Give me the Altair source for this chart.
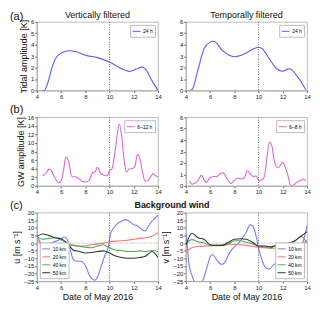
import altair as alt
import pandas as pd

# ---------------- data ----------------
# (a) tidal amplitude [K], 24 h
va_x = [4.4, 4.6, 4.95, 5.2, 5.5, 5.9, 6.3, 6.7, 7.2, 8.0, 9.0, 10.0, 11.0, 11.6, 12.0, 12.4, 12.7, 13.0, 13.5, 14.0]
va_y = [0.0, 0.0, 0.8, 1.8, 2.7, 3.2, 3.4, 3.47, 3.4, 3.08, 2.87, 2.48, 1.9, 1.67, 1.78, 1.95, 2.04, 1.83, 0.86, 0.0]
ta_x = [4.3, 4.5, 5.0, 5.5, 6.0, 6.2, 6.5, 7.0, 7.5, 8.0, 8.5, 9.0, 9.5, 10.0, 10.3, 10.5, 11.0, 11.5, 12.0, 12.5, 12.7, 13.0, 13.5, 13.9]
ta_y = [0.0, 0.05, 1.8, 3.65, 4.23, 4.3, 4.18, 3.5, 3.13, 2.95, 3.05, 3.3, 3.6, 3.78, 3.65, 3.4, 2.6, 1.9, 1.68, 1.9, 1.85, 1.5, 0.78, 0.05]

# (b) GW amplitude [K]
gv_x = [4.5, 4.8, 5.0, 5.2, 5.5, 5.8, 6.0, 6.2, 6.4, 6.6, 6.9, 7.2, 7.4, 7.7, 8.0, 8.3, 8.6, 8.8, 9.0, 9.2, 9.5, 9.8,
        10.0, 10.2, 10.5, 10.8, 11.0, 11.2, 11.4, 11.6, 11.9, 12.1, 12.3, 12.5, 12.7, 12.9, 13.1, 13.4, 13.6, 13.8, 14.0]
gv_y = [2.35, 3.05, 3.9, 3.55, 1.8, 0.7, 1.1, 3.55, 6.75, 6.0, 2.1, 2.1, 1.8, 1.1, 0.9, 1.2, 3.05, 3.2, 4.4, 3.2, 2.5, 2.35,
        3.55, 3.9, 8.9, 14.4, 11.7, 6.0, 3.2, 3.9, 4.05, 4.6, 7.3, 6.4, 3.55, 1.2, 1.05, 2.1, 2.85, 2.35, 2.1]
gt_x = [4.3, 4.5, 4.7, 5.0, 5.3, 5.5, 5.7, 6.0, 6.3, 6.6, 6.9, 7.1, 7.4, 7.7, 8.0, 8.3, 8.6, 8.8, 9.1, 9.3, 9.6, 9.8,
        10.0, 10.3, 10.5, 10.7, 10.9, 11.1, 11.3, 11.6, 11.8, 12.0, 12.2, 12.4, 12.6, 12.8, 13.0, 13.3, 13.5, 13.7, 13.9]
gt_y = [0.4, 0.15, 0.2, 0.47, 0.95, 0.53, 0.3, 0.74, 0.8, 0.84, 1.1, 1.13, 0.6, 0.2, 0.47, 0.68, 0.6, 0.68, 1.32, 1.05, 0.8, 0.87,
        0.47, 0.53, 0.87, 2.58, 3.84, 3.5, 2.2, 1.58, 1.79, 2.05, 1.66, 1.0, 0.16, 0.0, 0.16, 0.42, 0.47, 0.6, 0.42]

# (c) background wind [m/s]
grid_x = [4.0, 4.5, 5.0, 5.5, 6.0, 6.5, 7.0, 7.5, 8.0, 8.5, 9.0, 9.5, 10.0, 10.5, 11.0, 11.5, 12.0, 12.5, 13.0, 13.5, 14.0]
u10_x = [4.0, 4.3, 4.6, 5.0, 5.3, 5.6, 6.0, 6.3, 6.5, 6.7, 7.0, 7.3, 7.6, 8.0, 8.3, 8.6, 8.8, 9.0, 9.3, 9.6, 9.9,
         10.1, 10.3, 10.6, 11.0, 11.3, 11.6, 12.0, 12.3, 12.6, 12.9, 13.2, 13.5, 13.8, 14.0]
u10_y = [4.9, 0.5, -2.1, -1.1, 0.5, 1.3, 2.9, 4.0, 2.5, -2.5, -10.5, -11.9, -11.9, -14.5, -20.4, -23.8, -24.4, -22.4, -15.5, -8.5, -2.5,
         6.5, 9.4, 12.4, 14.4, 15.4, 14.4, 12.0, 11.4, 9.4, 8.0, 10.8, 14.4, 16.8, 18.4]
u20_y = [2.5, -1.6, -1.5, -0.9, -0.5, -1.1, -1.5, -1.9, -1.9, -1.1, -0.5, 0.0, 0.9, 1.3, 1.5, 1.9, 2.5, 3.1, 3.5, 4.5, 6.9]
u40_y = [4.4, 2.5, 3.1, 3.5, 2.1, 0.0, -1.5, -2.1, -2.7, -3.1, -1.9, -1.1, -3.1, -4.5, -4.9, -5.5, -5.5, -5.1, -5.5, -4.9, -5.5]
u50_y = [4.4, 6.0, 4.9, 3.5, 2.9, 0.0, -4.5, -5.5, -6.5, -6.2, -5.5, -5.1, -6.5, -8.5, -9.5, -9.9, -9.9, -9.5, -8.5, -5.5, -9.5]

v10_x = [4.0, 4.1, 4.25, 4.5, 4.75, 5.0, 5.25, 5.5, 5.8, 6.0, 6.2, 6.5, 6.8, 7.0, 7.3, 7.6, 8.0, 8.3, 8.6, 9.0, 9.3, 9.5, 9.8,
         10.0, 10.3, 10.6, 10.9, 11.2, 11.5, 12.0, 12.3, 12.6, 13.0, 13.3, 13.6, 13.8, 14.0]
v10_y = [6.0, 0.0, -13.5, -21.0, -26.5, -29.0, -27.0, -22.4, -14.5, -9.1, -7.5, -10.5, -13.4, -13.9, -11.5, -6.5, -2.5, -0.5, 2.5, 7.4, 12.0, 11.4, 4.5,
         -3.5, -11.5, -16.4, -17.1, -14.5, -13.1, -13.4, -11.9, -9.5, -7.5, -5.5, -1.5, 4.5, 11.4]
v20_y = [-6.0, -3.0, -2.2, -2.0, -1.9, -1.7, -1.5, -1.1, -0.9, -1.1, -1.5, -2.1, -2.7, -3.1, -3.5, -3.1, -2.5, -1.9, -1.5, -0.5, 1.5]
v40_y = [-0.5, 2.3, 0.9, 0.0, -1.5, -1.5, -1.5, -0.5, 1.5, 1.5, 0.5, -0.5, -1.9, -2.5, -3.1, -1.5, -1.5, -0.5, 1.5, 4.5, 0.0]
v50_y = [-1.5, 6.5, 3.5, 2.5, -1.1, -1.5, -1.5, 0.5, 2.5, 2.9, 2.5, 0.5, -1.9, -1.9, -2.5, -1.5, -1.1, 0.0, 1.5, 4.5, 7.5]

x_ticks = [4, 6, 8, 10, 12, 14]
wind_ticks = [-25, -20, -15, -10, -5, 0, 5, 10, 15, 20]
wind_names = ["10 km", "20 km", "40 km", "50 km"]
wind_colors = ["#7a7aff", "#ff7272", "#4fae4f", "#333333"]

FONT = "Liberation Sans"
W, H = 122, 69
GAP_COL = 28


def series_df(pairs):
    rows = []
    for name, xs, ys in pairs:
        for x, y in zip(xs, ys):
            rows.append({"day": x, "val": y, "series": name})
    return pd.DataFrame(rows)


def label(text, xpos, ypos, size, weight="normal", align="left"):
    return alt.Chart(pd.DataFrame({"t": [text]})).mark_text(
        align=align, baseline="middle", fontSize=size, font=FONT, fontWeight=weight, color="#111111").encode(
        x=alt.value(xpos), y=alt.value(ypos), text="t:N")


def panel(pairs, colors, ydom, yticks, ytitle, lorient, texts=(), xtitle=None, zero=False):
    df = series_df(pairs)
    names = [p[0] for p in pairs]
    x = alt.X("day:Q", scale=alt.Scale(domain=[4, 14], nice=False, zero=False),
              axis=alt.Axis(values=x_ticks, title=xtitle, labelOverlap=False, tickCount=len(x_ticks),
                            labelFlush=False, format="d"))
    y = alt.Y("val:Q", scale=alt.Scale(domain=ydom, nice=False, zero=False),
              axis=alt.Axis(values=yticks, title=ytitle, labelOverlap=False, tickCount=len(yticks),
                            labelFlush=False, format="d"))
    line = alt.Chart(df).mark_line(interpolate="monotone", strokeWidth=1.1, clip=True).encode(
        x=x, y=y,
        color=alt.Color("series:N", scale=alt.Scale(domain=names, range=colors),
                        legend=alt.Legend(orient=lorient, title=None)),
    )
    layers = []
    if zero:
        layers.append(alt.Chart(pd.DataFrame({"val": [0]})).mark_rule(
            color="#bbbbbb", strokeWidth=0.8, strokeDash=[2, 1]).encode(y="val:Q"))
    layers.append(line)
    layers.append(alt.Chart(pd.DataFrame({"day": [10]})).mark_rule(
        color="#555555", strokeWidth=0.9, strokeDash=[1, 1.5]).encode(x="day:Q"))
    layers.extend(texts)
    return alt.layer(*layers).properties(width=W, height=H)


a_l = panel([("24 h", va_x, va_y)], ["#5c5cff"], [0, 6], [0, 1, 2, 3, 4, 5, 6],
            "Tidal amplitude [K]", "top-right",
            texts=[label("(a)", -27, -5, 11), label("Vertically filtered", W / 2, -7, 9, align="center")])
a_r = panel([("24 h", ta_x, ta_y)], ["#5c5cff"], [0, 6], [0, 1, 2, 3, 4, 5, 6],
            None, "top-right",
            texts=[label("Temporally filtered", W / 2, -7, 9, align="center")])
b_l = panel([("6–12 h", gv_x, gv_y)], ["#dd66dd"], [0, 16], [0, 2, 4, 6, 8, 10, 12, 14, 16],
            "GW amplitude [K]", "top-right", texts=[label("(b)", -27, -7, 11)])
b_r = panel([("6–8 h", gt_x, gt_y)], ["#dd66dd"], [0, 6], [0, 1, 2, 3, 4, 5, 6],
            None, "top-right")
c_l = panel([(wind_names[0], u10_x, u10_y), (wind_names[1], grid_x, u20_y),
             (wind_names[2], grid_x, u40_y), (wind_names[3], grid_x, u50_y)],
            wind_colors, [-25, 20], wind_ticks, "u [m s⁻¹]", "bottom-left",
            texts=[label("(c)", -27, -7, 11),
                   label("Background wind", W + GAP_COL / 2, -8, 9, weight="bold", align="center")],
            xtitle="Date of May 2016", zero=True)
c_r = panel([(wind_names[0], v10_x, v10_y), (wind_names[1], grid_x, v20_y),
             (wind_names[2], grid_x, v40_y), (wind_names[3], grid_x, v50_y)],
            wind_colors, [-25, 20], wind_ticks, "v [m s⁻¹]", "bottom-right",
            xtitle="Date of May 2016", zero=True)

chart = alt.concat(a_l, a_r, b_l, b_r, c_l, c_r, columns=2, bounds="flush", align="all",
                   spacing={"row": 27, "column": GAP_COL}).resolve_scale(
    color="independent", x="independent", y="independent").properties(padding=1).configure(
    font=FONT).configure_axis(
    labelFontSize=6, titleFontSize=9, labelFont=FONT, titleFont=FONT, titleFontWeight="normal",
    tickSize=2, tickColor="#555555", domainColor="#aaaaaa", labelColor="#222222", titleColor="#111111",
    grid=False, labelPadding=1, titlePadding=2).configure_view(
    stroke="#aaaaaa", strokeWidth=0.8).configure_legend(
    labelFontSize=5, labelFont=FONT, symbolType="stroke", symbolStrokeWidth=1, symbolSize=64,
    padding=2, strokeColor="#bbbbbb", fillColor="white", rowPadding=0, labelOffset=2, offset=3,
    cornerRadius=0, symbolOffset=0)

chart.save("out.html", embed_options={"renderer": "svg", "actions": False})
